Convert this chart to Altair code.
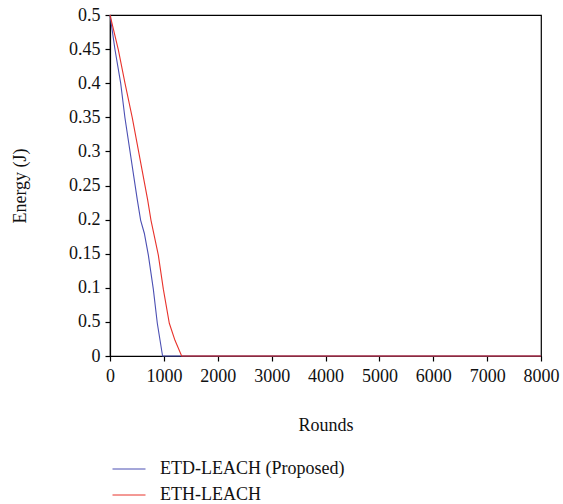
import altair as alt
import pandas as pd

etd_rounds = [0, 93, 198, 278, 507, 569, 637, 712, 804, 878, 976, 8000]
etd_energy = [0.5, 0.449, 0.40, 0.349, 0.229, 0.199, 0.180, 0.148, 0.098, 0.048, 0.0, 0.0]
eth_rounds = [0, 155, 278, 414, 699, 761, 897, 990, 1101, 1206, 1330, 8000]
eth_energy = [0.5, 0.449, 0.40, 0.349, 0.229, 0.199, 0.148, 0.098, 0.048, 0.023, 0.0, 0.0]
series = ["ETD-LEACH (Proposed)", "ETH-LEACH"]
colors = ["#4b4fb3", "#e8322b"]
y_ticks = [0, 0.05, 0.1, 0.15, 0.2, 0.25, 0.3, 0.35, 0.4, 0.45, 0.5]
y_labels = ["0", "0.5", "0.1", "0.15", "0.2", "0.25", "0.3", "0.35", "0.4", "0.45", "0.5"]
x_ticks = [0, 1000, 2000, 3000, 4000, 5000, 6000, 7000, 8000]

df1 = pd.DataFrame({"Rounds": etd_rounds, "Energy": etd_energy, "Series": series[0], "o": range(len(etd_rounds))})
df2 = pd.DataFrame({"Rounds": eth_rounds, "Energy": eth_energy, "Series": series[1], "o": range(len(eth_rounds))})

label_expr = "[" + ",".join(f"'{l}'" for l in y_labels) + "][round(datum.value*20)]"

FONT = "Liberation Serif"
FS = 18

color = alt.Color(
    "Series:N",
    scale=alt.Scale(domain=series, range=colors),
    legend=alt.Legend(
        title=None, orient="none", legendX=2, legendY=437,
        symbolType="stroke", symbolSize=1089, symbolStrokeWidth=1,
        labelFont=FONT, labelFontSize=FS, labelColor="#111", labelLimit=0,
        rowPadding=-8, labelOffset=14,
    ),
)

x = alt.X("Rounds:Q", scale=alt.Scale(domain=[0, 8000], nice=False),
          axis=alt.Axis(values=x_ticks, format="d", labelOverlap=False, labelFlush=False,
                        title="Rounds", titlePadding=31, labelPadding=6))
y = alt.Y("Energy:Q", scale=alt.Scale(domain=[0, 0.5], nice=False),
          axis=alt.Axis(values=y_ticks, labelExpr=label_expr, labelOverlap=False, labelFlush=False,
                        title="Energy (J)", titlePadding=39, labelPadding=5))

base1 = alt.Chart(df1).mark_line(strokeWidth=1.1).encode(x=x, y=y, color=color, order="o:Q")
base2 = alt.Chart(df2).mark_line(strokeWidth=1.1).encode(x=x, y=y, color=color, order="o:Q")

chart = alt.layer(base1, base2).properties(
    width=431, height=341,
    autosize=alt.AutoSizeParams(type="none"),
    padding={"left": 110, "top": 15, "right": 22, "bottom": 148},
).configure_view(stroke="#000", strokeWidth=1.2).configure_axis(
    grid=False, domainColor="#000", domainWidth=1.2, tickColor="#000", tickSize=5, tickWidth=1.2,
    labelFont=FONT, labelFontSize=FS, labelColor="#111", titleFont=FONT, titleFontSize=FS,
    titleFontWeight="normal", titleColor="#111",
)

chart.save("out.html", embed_options={"renderer": "svg", "actions": False})
